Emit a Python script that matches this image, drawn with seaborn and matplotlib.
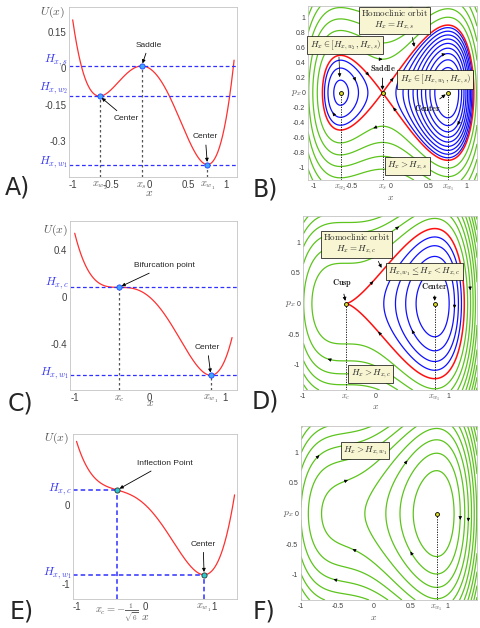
import matplotlib
matplotlib.use("Agg")
import matplotlib.pyplot as plt
import numpy as np
import seaborn as sns

# potential U(x) = x^4 - x^2 - eps*x  (coefficients)
poly_A = [1.0, 0.0, -1.0, -0.20, 0.0]
poly_C = [1.0, 0.0, -1.0, -0.5443, 0.0]
poly_E = [1.0, 0.0, -1.0, -0.80, 0.0]

# energy levels of the phase portraits, H_x = p^2/2 + U(x)
blue_B = [-0.34, -0.30, -0.26, -0.22, -0.18, -0.14, -0.10, -0.06, -0.02]
green_B = [0.11, 0.23, 0.37, 0.53, 0.71, 0.91, 1.13, 1.37, 1.63, 1.91, 2.21]
blue_D = [-0.52, -0.37, -0.22, -0.075]
green_D = [0.30, 0.52, 0.74, 0.96, 1.18, 1.40, 1.62, 1.84, 2.06, 2.30]
green_F = [-0.635, -0.395, -0.155, 0.085, 0.325, 0.565, 0.805, 1.045, 1.285, 1.525, 1.765, 2.005]

# where the little direction arrows sit (x, p)
arrows_B = [(-0.10, 0.46), (-0.22, -0.475), (0.04, 0.20), (0.035, -0.20), (-0.30, 0.21),
            (-0.43, 0.17), (-0.77, -0.27), (0.72, 0.53), (0.88, -0.43)]
arrows_D = [(0.31, 1.28), (-0.03, 0.36), (0.04, -0.46), (-0.67, -0.93), (1.30, 0.22),
            (1.09, -0.08), (0.50, -0.43)]
arrows_F = [(-0.76, 0.97), (-0.36, 0.56), (0.445, 0.875), (-0.30, -0.59), (0.50, -0.62),
            (-0.56, -1.08), (1.16, -0.10), (1.28, -0.13)]

RED = '#ff3030'
DASH_BLUE = '#3030ff'
TXT_BLUE = '#3a3aee'
GREEN = '#5cc41c'
CBLUE = '#1010ff'
SEP = '#ff1010'
BOX = dict(boxstyle='square,pad=0.25', fc='#f8f6d2', ec='k', lw=0.5)
GREY = '#404040'

sns.set_style('white')
plt.rcParams['font.family'] = ['Liberation Sans', 'DejaVu Sans']
plt.rcParams['mathtext.fontset'] = 'cm'

fig = plt.figure(figsize=(4.8, 6.28), dpi=100)


def add_ax(l, t, r, b):
    return fig.add_axes([l / 480, 1 - b / 628, (r - l) / 480, (b - t) / 628])


def style(ax, fs, mfs):
    for s in ax.spines.values():
        s.set_color('#c4c4c4')
        s.set_linewidth(0.6)
    ax.tick_params(labelsize=fs, colors=GREY, length=2, width=0.5, direction='in', pad=2)
    for t in ax.get_xticklabels():
        if t.get_text().startswith('$'):
            t.set_fontsize(mfs)
            t.set_color('#606060')


def arrow_note(ax, txt, xy, off, fs=6):
    ax.annotate(txt, xy=xy, xytext=off, textcoords='offset points', ha='center', va='center',
                fontsize=fs, zorder=6,
                arrowprops=dict(arrowstyle='-|>', color='k', lw=0.6, mutation_scale=5,
                                shrinkA=1, shrinkB=2))


def h_label(ax, txt, h, dy):
    ax.annotate(txt, xy=(0, h), xycoords=ax.get_yaxis_transform(), xytext=(-1, dy),
                textcoords='offset points', ha='right', va='center', color=TXT_BLUE, fontsize=8.5)


def axis_names(ax, ux, uy, xy_):
    ax.text(ux, uy, '$U(x)$', transform=ax.transAxes, ha='center', va='center', fontsize=8.5, color='#555555')
    ax.text(0, xy_, '$x$', transform=ax.get_xaxis_transform(), ha='center', va='center', fontsize=8.5, color='#555555')


def portrait(ax, poly, xlim, ylim, blue, green, sep, arrows):
    ax.set_xlim(xlim)
    ax.set_ylim(ylim)
    X, P = np.meshgrid(np.linspace(xlim[0], xlim[1], 500), np.linspace(ylim[0], ylim[1], 500))
    H = 0.5 * P ** 2 + np.polyval(poly, X)
    kw = dict(linestyles='solid', negative_linestyles='solid')
    sets = [ax.contour(X, P, H, levels=green, colors=GREEN, linewidths=0.9, **kw)]
    if blue:
        sets.append(ax.contour(X, P, H, levels=blue, colors=CBLUE, linewidths=0.9, **kw))
    if sep is not None:
        sets.append(ax.contour(X, P, H, levels=[sep], colors=SEP, linewidths=1.1, **kw))
    pts = np.vstack([p.vertices for cs in sets for p in cs.get_paths() if len(p.vertices)])
    dpoly = np.polyder(poly)
    sx, sy = xlim[1] - xlim[0], ylim[1] - ylim[0]
    for x0, p0 in arrows:
        d = ((pts[:, 0] - x0) / sx) ** 2 + ((pts[:, 1] - p0) / sy) ** 2
        x, p = pts[np.argmin(d)]
        a = ax.transData.transform([(x, p), (x + 1e-3 * p, p - 1e-3 * np.polyval(dpoly, x))])
        v = a[1] - a[0]
        v = v / np.hypot(*v)
        ax.annotate('', xy=(x, p), xytext=(-2.5 * v[0], -2.5 * v[1]), textcoords='offset points',
                    arrowprops=dict(arrowstyle='-|>', color='k', lw=0.4, mutation_scale=5,
                                    shrinkA=0, shrinkB=0), zorder=5)
    ax.text(-0.07, 0, '$p_x$', transform=ax.get_yaxis_transform(), ha='center', va='center',
            fontsize=7, color='#555555')


def crit_points(ax, xs, y0):
    ax.vlines(xs, y0, 0, colors='k', linestyles=(0, (1.5, 1.5)), lw=0.6)
    sns.scatterplot(x=xs, y=np.zeros(len(xs)), ax=ax, s=8, color='#d8d820', edgecolor='k',
                    linewidth=0.6, zorder=6, legend=False)


# ---------------- A) double well
axA = add_ax(69, 7, 237, 177)
xA = np.linspace(-1.0, 1.1, 400)
ylimA = (-0.447, 0.253)
sns.lineplot(x=xA, y=np.polyval(poly_A, xA), ax=axA, color=RED, lw=0.9)
cA = np.sort(np.roots(np.polyder(poly_A)).real)  # x_w2, x_s, x_w1
hA = np.polyval(poly_A, cA)
axA.set_xlim(-1.048, 1.138)
axA.set_ylim(ylimA)
for h in hA:
    axA.axhline(h, color=DASH_BLUE, lw=0.9, ls=(0, (3, 2)))
axA.vlines(cA, ylimA[0], hA, colors='#555555', lw=0.9, linestyles=(0, (2, 2)))
sns.scatterplot(x=cA, y=hA, ax=axA, s=14, color='#40a8ff', edgecolor='#2040ff', linewidth=0.6, zorder=5)
axA.set_yticks([-0.3, -0.15, 0, 0.15], ['-0.3', '-0.15', '0', '0.15'])
axA.set_xticks([-1, cA[0], -0.5, cA[1], 0, 0.5, cA[2], 1],
               ['-1', r'$x_{w_2}$', '-0.5', r'$x_s$', '0', '0.5', r'$x_{w_1}$', '1'])
style(axA, 7, 7.5)
for lab, h, dy in zip([r'$H_{x,w_2}$', r'$H_{x,s}$', r'$H_{x,w_1}$'], hA, [5.5, 4, 2]):
    h_label(axA, lab, h, dy)
axis_names(axA, -0.10, 0.97, -0.094)
arrow_note(axA, 'Saddle', (cA[1], hA[1]), (5, 15))
arrow_note(axA, 'Center', (cA[0], hA[0]), (19, -16))
arrow_note(axA, 'Center', (cA[2], hA[2]), (-1.5, 20))

# ---------------- B) phase portrait of A
axB = add_ax(308, 6, 477, 180)
limB = ((-1.076, 1.133), (-1.164, 1.156))
portrait(axB, poly_A, limB[0], limB[1], blue_B, green_B, hA[1], arrows_B)
crit_points(axB, cA, limB[1][0])
axB.set_xticks([-1, cA[0], -0.5, cA[1], 0, 0.5, cA[2], 1],
               ['-1', r'$x_{w_2}$', '-0.5', r'$x_s$', '0', '0.5', r'$x_{w_1}$', '1'])
yB = [-1, -0.8, -0.6, -0.4, -0.2, 0, 0.2, 0.4, 0.6, 0.8, 1]
axB.set_yticks(yB, [f'{v:g}' for v in yB])
style(axB, 5, 6)
axB.text(0, -0.096, '$x$', transform=axB.get_xaxis_transform(), ha='center', va='center', fontsize=7, color='#555555')
xr = 0.32
axB.annotate(r'$\mathrm{Homoclinic\ orbit}$' + '\n' + r'$H_x = H_{x,s}$',
             xy=(xr, np.sqrt(2 * (hA[1] - np.polyval(poly_A, xr)))),
             xytext=(0.056, 0.976), ha='center', va='center', multialignment='center',
             fontsize=6.5, bbox=BOX, zorder=7,
             arrowprops=dict(arrowstyle='-|>', color='k', lw=0.5, mutation_scale=5, relpos=(0.75, 0)))
axB.annotate(r'$H_x \in [H_{x,w_2}, H_{x,s})$', xy=(-0.66, 0.17), xytext=(-0.59, 0.636),
             ha='center', va='center', fontsize=6.5, bbox=BOX, zorder=7,
             arrowprops=dict(arrowstyle='-|>', color='k', lw=0.5, mutation_scale=5, relpos=(0.41, 0)))
axB.text(0.586, 0.176, r'$H_x \in [H_{x,w_1}, H_{x,s})$', ha='center', va='center', fontsize=6.5, bbox=BOX, zorder=7)
axB.text(0.226, -0.977, r'$H_x > H_{x,s}$', ha='center', va='center', fontsize=6.5, bbox=BOX, zorder=7)
arrow_note(axB, r'$\mathbf{Saddle}$', (cA[1], 0), (0, 17.5), fs=6)
arrow_note(axB, r'$\mathbf{Center}$', (cA[2], 0), (-14.5, -11), fs=6)

# ---------------- C) bifurcation
axC = add_ax(70, 221, 237, 390)
xC = np.linspace(-1.0, 1.1, 400)
ylimC = (-0.792, 0.649)
sns.lineplot(x=xC, y=np.polyval(poly_C, xC), ax=axC, color=RED, lw=0.9)
rC = np.sort(np.roots(np.polyder(poly_C)).real)
cC = np.array([rC[:2].mean(), rC[2]])  # x_c (double root), x_w1
hC = np.polyval(poly_C, cC)
axC.set_xlim(-1.063, 1.166)
axC.set_ylim(ylimC)
for h in hC:
    axC.axhline(h, color=DASH_BLUE, lw=0.9, ls=(0, (3, 2)))
axC.vlines(cC, ylimC[0], hC, colors='#555555', lw=0.9, linestyles=(0, (2, 2)))
sns.scatterplot(x=cC, y=hC, ax=axC, s=14, color='#40a8ff', edgecolor='#2040ff', linewidth=0.6, zorder=5)
axC.set_yticks([-0.4, 0, 0.4], ['-0.4', '0', '0.4'])
axC.set_xticks([-1, cC[0], 0, cC[1], 1], ['-1', r'$x_c$', '0', r'$x_{w_1}$', '1'])
style(axC, 7, 7.5)
h_label(axC, r'$H_{x,c}$', hC[0], 3)
h_label(axC, r'$H_{x,w_1}$', hC[1], 1.5)
axis_names(axC, -0.09, 0.947, -0.079)
arrow_note(axC, 'Bifurcation point', (cC[0], hC[0]), (33, 15.5))
arrow_note(axC, 'Center', (cC[1], hC[1]), (-2.5, 20))

# ---------------- D) phase portrait of C
axD = add_ax(303, 216, 477, 390)
limD = ((-0.995, 1.4), (-1.41, 1.43))
portrait(axD, poly_C, limD[0], limD[1], blue_D, green_D, hC[0], arrows_D)
crit_points(axD, cC, limD[1][0])
axD.set_xticks([-1, cC[0], 0, cC[1], 1], ['-1', r'$x_c$', '0', r'$x_{w_1}$', '1'])
yD = [-1, -0.5, 0, 0.5, 1]
axD.set_yticks(yD, [f'{v:g}' for v in yD])
style(axD, 5, 6)
axD.text(0, -0.092, '$x$', transform=axD.get_xaxis_transform(), ha='center', va='center', fontsize=7, color='#555555')
xr = 0.10
axD.annotate(r'$\mathrm{Homoclinic\ orbit}$' + '\n' + r'$H_x = H_{x,c}$',
             xy=(xr, np.sqrt(2 * (hC[0] - np.polyval(poly_C, xr)))),
             xytext=(-0.264, 0.98), ha='center', va='center', multialignment='center',
             fontsize=6.5, bbox=BOX, zorder=7,
             arrowprops=dict(arrowstyle='-|>', color='k', lw=0.5, mutation_scale=5, relpos=(0.79, 0)))
axD.text(0.678, 0.525, r'$H_{x,w_1} \leq H_x < H_{x,c}$', ha='center', va='center', fontsize=6.5, bbox=BOX, zorder=7)
axD.text(-0.065, -1.147, r'$H_x > H_{x,c}$', ha='center', va='center', fontsize=6.5, bbox=BOX, zorder=7)
arrow_note(axD, r'$\mathbf{Cusp}$', (cC[0], 0), (-3, 14.5), fs=6)
arrow_note(axD, r'$\mathbf{Center}$', (cC[1], 0), (0, 12.5), fs=6)

# ---------------- E) single well with inflection point
axE = add_ax(73, 434, 237, 599)
xE = np.linspace(-1.0, 1.3, 400)
xlimE, ylimE = (-1.051, 1.335), (-1.186, 0.893)
sns.lineplot(x=xE, y=np.polyval(poly_E, xE), ax=axE, color=RED, lw=0.9)
xcE = np.roots(np.polyder(poly_E, 2)).real.min()
rE = np.roots(np.polyder(poly_E))
xwE = rE[np.abs(rE.imag) < 1e-6].real.max()
cE = np.array([xcE, xwE])
hE = np.polyval(poly_E, cE)
axE.set_xlim(xlimE)
axE.set_ylim(ylimE)
axE.hlines(hE, xlimE[0], cE, colors=DASH_BLUE, lw=1.1, linestyles=(0, (3, 2)))
axE.vlines(cE, ylimE[0], hE, colors=DASH_BLUE, lw=1.1, linestyles=(0, (3, 2)))
sns.scatterplot(x=cE, y=hE, ax=axE, s=14, color='#30c8c8', edgecolor='#203838', linewidth=0.6, zorder=5)
axE.set_yticks([-1, 0], ['-1', '0'])
axE.set_xticks([-1, cE[0], 0, cE[1], 1], ['-1', r'$x_c=-\frac{1}{\sqrt{6}}$', '0', r'$x_{w_1}$', '1'])
style(axE, 7, 7.5)
h_label(axE, r'$H_{x,c}$', hE[0], 0.5)
h_label(axE, r'$H_{x,w_1}$', hE[1], 1)
axis_names(axE, -0.10, 0.974, -0.107)
arrow_note(axE, 'Inflection Point', (cE[0], hE[0]), (34, 19))
arrow_note(axE, 'Center', (cE[1], hE[1]), (-0.7, 22))

# ---------------- F) phase portrait of E
axF = add_ax(301, 426, 477, 600)
limF = ((-1.0, 1.41), (-1.41, 1.43))
portrait(axF, poly_E, limF[0], limF[1], None, green_F, None, arrows_F)
crit_points(axF, cE[1:], limF[1][0])
axF.set_xticks([-1, -0.5, 0, 0.5, cE[1], 1], ['-1', '-0.5', '0', '0.5', r'$x_{w_1}$', '1'])
axF.set_yticks(yD, [f'{v:g}' for v in yD])
style(axF, 5, 6)
axF.text(0, -0.096, '$x$', transform=axF.get_xaxis_transform(), ha='center', va='center', fontsize=7, color='#555555')
axF.text(-0.123, 1.03, r'$H_x > H_{x,w_1}$', ha='center', va='center', fontsize=6.5, bbox=BOX, zorder=7)

# panel letters
for lab, px, py in [('A)', 5, 188), ('B)', 253, 190), ('C)', 8, 404), ('D)', 252, 402),
                    ('E)', 10, 611), ('F)', 253, 611)]:
    fig.text(px / 480, 1 - py / 628, lab, fontsize=17, ha='left', va='center', family='DejaVu Sans')

fig.savefig('out.png', dpi=100)
